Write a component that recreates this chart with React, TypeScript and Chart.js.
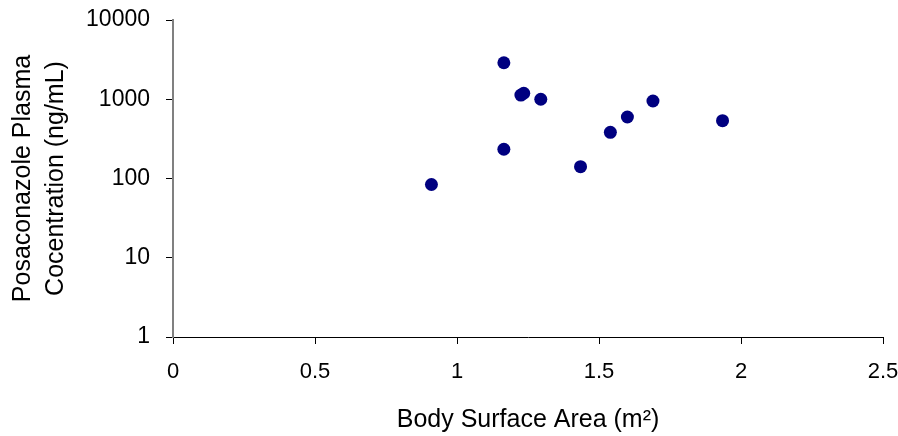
import React, { useEffect, useRef } from "react";
import { Chart, registerables } from "chart.js";

Chart.register(...registerables);

const bodySurfaceArea = [0.91, 1.165, 1.165, 1.225, 1.235, 1.295, 1.435, 1.54, 1.6, 1.69, 1.935];
const plasmaConc = [84, 2890, 234, 1130, 1190, 1000, 141, 383, 597, 951, 536];
const xTickValues = [0, 0.5, 1, 1.5, 2, 2.5];
const yTickValues = [1, 10, 100, 1000, 10000];
const xTitle = "Body Surface Area (m²)";
const yTitle = ["Posaconazole Plasma", "Cocentration (ng/mL)"];

const FONT = "'Liberation Sans', Arial, sans-serif";

export default function App() {
  const ref = useRef<HTMLCanvasElement | null>(null);
  useEffect(() => {
    if (!ref.current) return;
    const points = bodySurfaceArea.map((x, i) => ({ x, y: plasmaConc[i] }));
    const chart = new Chart(ref.current, {
      type: "scatter",
      data: {
        datasets: [
          {
            data: points,
            backgroundColor: "#000080",
            borderColor: "#000080",
            pointRadius: 6.5,
            pointHoverRadius: 6.5,
            borderWidth: 0,
          },
        ],
      },
      options: {
        animation: false,
        responsive: false,
        events: [],
        layout: { padding: { left: 0, right: 15, top: 20, bottom: 0 } },
        plugins: { legend: { display: false }, tooltip: { enabled: false } },
        scales: {
          x: {
            type: "linear",
            min: 0,
            max: 2.5,
            afterFit: (s: any) => {
              s.height = 99;
              s.paddingLeft = 0;
              s.paddingRight = 0;
            },
            afterBuildTicks: (s: any) => {
              s.ticks = xTickValues.map((v) => ({ value: v }));
            },
            ticks: {
              color: "#000",
              padding: 15,
              font: { family: FONT, size: 22 },
              callback: (v: any) => String(v),
            },
            grid: {
              drawOnChartArea: false,
              drawTicks: true,
              tickLength: 7,
              color: "#000",
            },
            border: { color: "#000", width: 1 },
            title: {
              display: true,
              text: xTitle,
              color: "#000",
              font: { family: FONT, size: 25, lineHeight: 1.2 },
              padding: { top: 0, bottom: 1 },
            },
          },
          y: {
            type: "logarithmic",
            min: 1,
            max: 10000,
            afterFit: (s: any) => {
              s.width = 173;
              s.paddingTop = 0;
              s.paddingBottom = 0;
            },
            afterBuildTicks: (s: any) => {
              s.ticks = yTickValues.map((v) => ({ value: v, major: true }));
            },
            ticks: {
              color: "#000",
              padding: 16,
              font: { family: FONT, size: 23 },
              callback: (v: any) => String(v),
            },
            grid: {
              drawOnChartArea: false,
              drawTicks: true,
              tickLength: 7,
              color: "#000",
            },
            border: { color: "#808080", width: 2 },
            title: {
              display: true,
              text: yTitle,
              color: "#000",
              font: { family: FONT, size: 25, lineHeight: 1.336 },
              padding: { top: 6, bottom: 0 },
            },
          },
        },
      },
    });
    return () => chart.destroy();
  }, []);
  return (
    <div style={{ position: "absolute", left: 0, top: 0, width: 898, height: 436, background: "#fff" }}>
      <canvas ref={ref} width={898} height={436} />
    </div>
  );
}
